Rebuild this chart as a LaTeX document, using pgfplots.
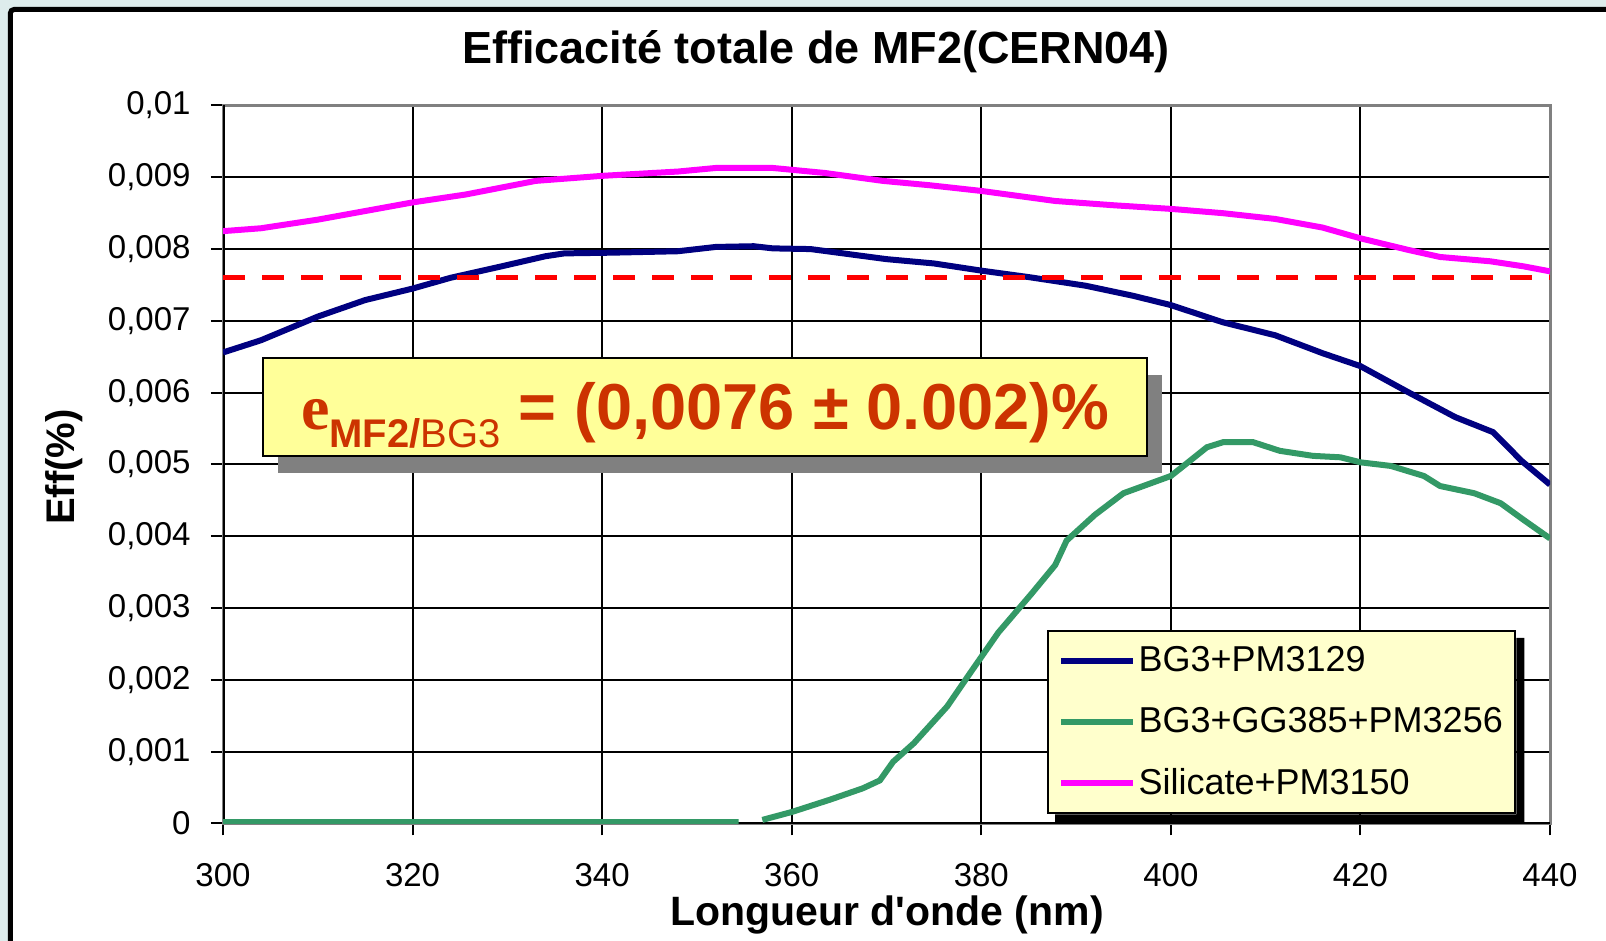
\documentclass[border=0pt]{standalone}
\usepackage{pgfplots}
\pgfplotsset{compat=1.18}
\usepackage{fontspec}
\setmainfont{Liberation Sans}[Ligatures=TeXOff]
\newfontfamily\serifb{Liberation Serif}
\definecolor{bgc}{RGB}{221,236,236}
\definecolor{navy}{RGB}{0,0,128}
\definecolor{sea}{RGB}{51,153,102}
\definecolor{mag}{RGB}{255,0,255}
\definecolor{annot}{RGB}{204,51,0}
\definecolor{legfill}{RGB}{255,255,204}
\definecolor{boxfill}{RGB}{255,255,153}
\definecolor{shadowgray}{RGB}{128,128,128}

\begin{document}
\begin{tikzpicture}
\path[use as bounding box] (0,0) rectangle (803pt,470.5pt);
\begin{scope}
\clip (0,0) rectangle (803pt,470.5pt);
\fill[bgc] (0,0) rectangle (803pt,470.5pt);
\fill[white, rounded corners=2pt] (5.15pt,-20pt) rectangle (830pt,465.8pt);
\draw[black, line width=2.5pt, rounded corners=2pt] (5.15pt,-20pt) -- (5.15pt,465.8pt) -- (830pt,465.8pt);
\end{scope}

\begin{axis}[
  at={(111.5pt,58.75pt)}, anchor=south west,
  scale only axis, width=663.5pt, height=359pt,
  xmin=300, xmax=440, ymin=0, ymax=0.01,
  xtick={300,320,...,440},
  ytick={0,0.001,0.002,0.003,0.004,0.005,0.006,0.007,0.008,0.009,0.01},
  scaled y ticks=false,
  /pgf/number format/.cd, fixed, precision=3, use comma, assume math mode=true,
  /pgfplots/.cd,
  xtick pos=left, ytick pos=left,
  tick align=outside, major tick length=6pt,
  tick style={black, line width=1pt},
  grid=major, major grid style={black, line width=1pt},
  axis line style={draw=shadowgray, line width=1.5pt},
  ticklabel style={font=\fontsize{16.5}{18}\selectfont},
  xticklabel style={yshift=-10.3pt},
  yticklabel style={xshift=-6.7pt},
  legend style={name=leg, at={(0.621,0.2695)}, anchor=north west, draw=black, line width=1pt,
    fill=legfill, font=\fontsize{18}{20}\selectfont,
    inner xsep=5pt, inner ysep=6.5pt, row sep=14pt,
    nodes={inner sep=1.25pt}},
  legend cell align=left,
  legend image code/.code={\draw[#1] (0pt,0pt) -- (36pt,0pt);},
]
\draw[black, line width=1.5pt] (rel axis cs:0,0) -- (rel axis cs:1,0);
\draw[black, line width=1.5pt] (rel axis cs:0,0) -- (rel axis cs:0,1);

\addplot[navy, line width=3pt] coordinates {
(300,0.00656) (304,0.00673) (310,0.00706) (315,0.00729) (320,0.00745) (324,0.0076)
(329.4,0.00776) (334,0.0079) (336,0.00794) (341,0.00795) (348,0.00797) (352,0.00803)
(356,0.00804) (358,0.00801) (362,0.008) (366,0.00793) (370,0.00786) (375,0.0078)
(380,0.0077) (385,0.00761) (391,0.00749) (396,0.00735) (400,0.00722) (405.5,0.00698)
(411,0.0068) (416,0.00655) (420,0.00637) (425,0.00601) (430,0.00566) (434,0.00545)
(437,0.00505) (440,0.00472)};
\addlegendentry{BG3+PM3129}

\addplot[sea, line width=3pt, unbounded coords=jump] coordinates {
(300,0.00002) (354.4,0.00002) (355.5,nan) (356.9,0.00005) (360,0.00016) (364,0.00033)
(367.5,0.00049) (369.3,0.0006) (370.7,0.00086) (372.9,0.00112) (376.4,0.00163)
(378.9,0.00211) (381.8,0.00266) (385.3,0.0032) (387.8,0.0036) (389,0.00394)
(392,0.0043) (395,0.0046) (400,0.00484) (402,0.00505) (403.8,0.00524) (405.5,0.00531)
(408.7,0.00531) (411.5,0.00519) (415,0.00512) (417.9,0.0051) (420,0.00503)
(423.2,0.00498) (426.7,0.00484) (428.4,0.0047) (432,0.0046) (434.8,0.00446)
(437.2,0.00423) (440,0.00397)};
\addlegendentry{BG3+GG385+PM3256}

\addplot[mag, line width=3pt] coordinates {
(300,0.00825) (304,0.00829) (310,0.00841) (315,0.00853) (320,0.00865) (325.6,0.00876)
(333,0.00895) (340,0.00902) (348,0.00908) (352,0.00913) (358,0.00913) (363.5,0.00906)
(369.6,0.00895) (374.5,0.00889) (380,0.00881) (387.8,0.00867) (394,0.00861)
(400,0.00856) (405.5,0.0085) (411,0.00842) (416,0.0083) (420,0.00815) (425,0.00799)
(428.4,0.00789) (433.7,0.00783) (437.2,0.00776) (440,0.00769)};
\addlegendentry{Silicate+PM3150}

\addplot[red, line width=2.5pt, dash pattern=on 10.75pt off 8.75pt, forget plot] coordinates {
(300,0.0076) (440,0.0076)};
\end{axis}

% legend shadow (L-shaped, outside the legend box)
\fill[black] ([xshift=4pt]leg.south west) -- ([shift={(4pt,-4pt)}]leg.south west)
  -- ([shift={(4pt,-4pt)}]leg.south east) -- ([shift={(4pt,-4pt)}]leg.north east)
  -- ([yshift=-4pt]leg.north east) -- (leg.south east) -- cycle;

% annotation box
\fill[shadowgray] (139pt,234pt) rectangle (581pt,283pt);
\draw[fill=boxfill, line width=1pt] (131.5pt,242.5pt) rectangle (573.5pt,291.5pt);
\node[anchor=base, text=annot, inner sep=0pt] at (352.5pt,255.5pt)
  {{\serifb\bfseries\fontsize{32}{32}\selectfont e}\raisebox{-8.75pt}{\fontsize{20}{20}\selectfont\bfseries MF2/\mdseries BG3}{\fontsize{32.5}{32.5}\selectfont\bfseries\ = (0,0076 ± 0.002)\%}};

% titles
\node[anchor=base, inner sep=0pt] at (408pt,438.75pt) {\bfseries\fontsize{22.5}{24}\selectfont Efficacité totale de MF2(CERN04)};
\node[anchor=base, inner sep=0pt] at (443.5pt,7.5pt) {\bfseries\fontsize{20.5}{24}\selectfont Longueur d'onde (nm)};
\node[anchor=base, inner sep=0pt, rotate=90] at (37pt,237pt) {\bfseries\fontsize{20}{24}\selectfont Eff(\%)};
\end{tikzpicture}
\end{document}
